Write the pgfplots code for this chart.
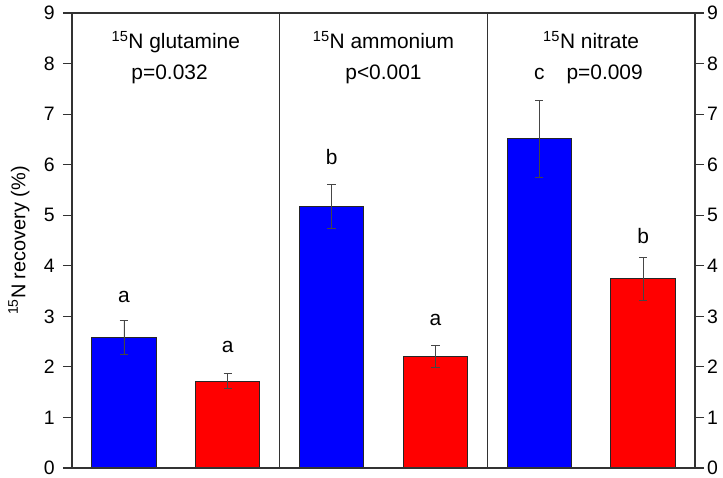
\documentclass[border=0pt]{standalone}
\usepackage{fontspec}
\setmainfont{Liberation Sans}
\usepackage{pgfplots}
\usepackage{pgfplotstable}
\pgfplotsset{compat=1.18}
\pgfplotstableread{
x y ep em
0.5 2.58 0.33 0.33
2.5 5.17 0.43 0.44
4.5 6.51 0.76 0.77
}\blueT
\pgfplotstableread{
x y ep em
1.5 1.72 0.15 0.14
3.5 2.20 0.22 0.21
5.5 3.74 0.43 0.43
}\redT
\definecolor{spine}{RGB}{50,50,50}
\definecolor{ebar}{RGB}{70,70,70}
\newcommand{\bigf}{\fontsize{21}{25}\selectfont}
\newcommand{\tickf}{\fontsize{19.5}{23}\selectfont}
\begin{document}
\begin{tikzpicture}[font=\bigf]
\pgfplotsset{
  common/.style={
    scale only axis, width=623bp, height=455bp,
    xmin=0, xmax=6, ymin=0, ymax=9,
    xtick=\empty, ytick={0,1,...,9},
    tick align=outside, major tick length=9bp,
    axis line style={spine, line width=1.1bp},
    tick style={spine, line width=1.1bp},
    /pgf/number format/assume math mode=true,
    yticklabel style={font=\tickf, inner sep=0pt},
  }
}
\begin{axis}[common, ytick pos=left, yticklabel pos=left,
  yticklabel style={xshift=-8bp},
  ylabel={\textsuperscript{15}N recovery (\%)},
  every axis y label/.style={at={(rel axis cs:0,0.5)}, xshift=-53bp, rotate=90, anchor=center, font=\fontsize{20}{24}\selectfont},
]
\coordinate (SW) at (rel axis cs:0,0);
\coordinate (NE) at (rel axis cs:1,1);
\addplot[spine, line width=1.1bp, no marks] coordinates {(2,0) (2,9)};
\addplot[spine, line width=1.1bp, no marks] coordinates {(4,0) (4,9)};
\addplot[ybar, bar width=0.62, bar shift=0pt, fill={rgb,255:red,0;green,0;blue,255}, draw=black!85, line width=0.9bp,
  error bars/.cd, y dir=both, y explicit,
  error bar style={ebar, line width=0.8bp},
  error mark options={rotate=90, mark size=4.2bp, ebar, line width=0.8bp}]
  table[x=x, y=y, y error plus=ep, y error minus=em] {\blueT};
\addplot[ybar, bar width=0.62, bar shift=0pt, fill={rgb,255:red,255;green,0;blue,0}, draw=black!85, line width=0.9bp,
  error bars/.cd, y dir=both, y explicit,
  error bar style={ebar, line width=0.8bp},
  error mark options={rotate=90, mark size=4.2bp, ebar, line width=0.8bp}]
  table[x=x, y=y, y error plus=ep, y error minus=em] {\redT};
% letters
\node at (axis cs:0.5,3.38) {a};
\node at (axis cs:1.5,2.40) {a};
\node at (axis cs:2.5,6.15) {b};
\node at (axis cs:3.5,2.93) {a};
\node[anchor=base] at (axis cs:4.5,7.69) {c};
\node at (axis cs:5.5,4.59) {b};
% titles
\node[anchor=base] at (axis cs:1.0,8.29) {\textsuperscript{15}N glutamine};
\node[anchor=base] at (axis cs:0.94,7.69) {p=0.032};
\node[anchor=base] at (axis cs:3.0,8.29) {\textsuperscript{15}N ammonium};
\node[anchor=base] at (axis cs:3.0,7.69) {p<0.001};
\node[anchor=base] at (axis cs:5.0,8.29) {\textsuperscript{15}N nitrate};
\node[anchor=base] at (axis cs:5.13,7.69) {p=0.009};
\end{axis}
\begin{axis}[common, ytick pos=right, yticklabel pos=right,
  yticklabel style={xshift=3bp}]
\end{axis}
\pgfresetboundingbox
\path[use as bounding box] ([xshift=-72bp,yshift=-10bp]SW) rectangle ([xshift=28bp,yshift=13bp]NE);
\end{tikzpicture}
\end{document}
